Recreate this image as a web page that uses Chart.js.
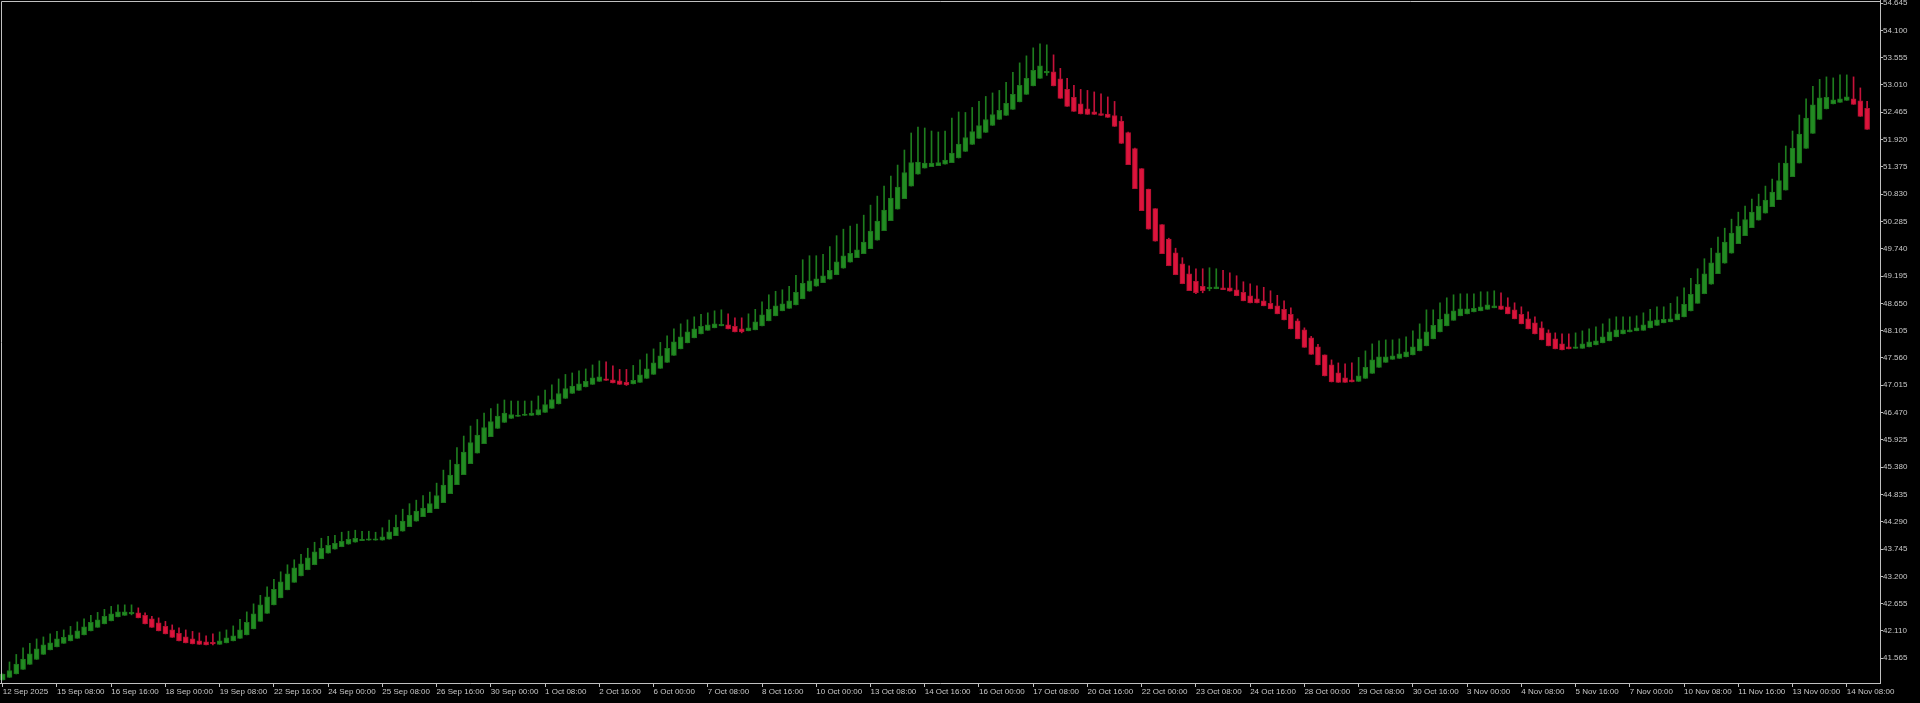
<!DOCTYPE html>
<html>
<head>
<meta charset="utf-8">
<script src="https://cdn.jsdelivr.net/npm/chart.js@4.4.1/dist/chart.umd.min.js"></script>
<style>
html,body{margin:0;padding:0;background:#000;overflow:hidden}
canvas{display:block}
</style>
</head>
<body>
<canvas id="c" width="1920" height="703"></canvas>
<script>
// ---- tick labels ----
const xTickLabels = ['12 Sep 2025','15 Sep 08:00','16 Sep 16:00','18 Sep 00:00','19 Sep 08:00','22 Sep 16:00','24 Sep 00:00','25 Sep 08:00','26 Sep 16:00','30 Sep 00:00','1 Oct 08:00','2 Oct 16:00','6 Oct 00:00','7 Oct 08:00','8 Oct 16:00','10 Oct 00:00','13 Oct 08:00','14 Oct 16:00','16 Oct 00:00','17 Oct 08:00','20 Oct 16:00','22 Oct 00:00','23 Oct 08:00','24 Oct 16:00','28 Oct 00:00','29 Oct 08:00','30 Oct 16:00','3 Nov 00:00','4 Nov 08:00','5 Nov 16:00','7 Nov 00:00','10 Nov 08:00','11 Nov 16:00','13 Nov 00:00','14 Nov 08:00'];
const barsPerXTick = 8;
const yTickValues = [41.565,42.110,42.655,43.200,43.745,44.290,44.835,45.380,45.925,46.470,47.015,47.560,48.105,48.650,49.195,49.740,50.285,50.830,51.375,51.920,52.465,53.010,53.555,54.100,54.645];

// ---- candle series (H4 bars, one per index) ----
const opens = [41.13,41.18,41.25,41.34,41.44,41.54,41.64,41.73,41.79,41.86,41.91,41.96,42.03,42.11,42.18,42.25,42.31,42.39,42.42,42.45,
42.47,42.42,42.35,42.27,42.20,42.13,42.06,41.99,41.95,41.91,41.89,41.87,41.84,41.87,41.91,41.96,42.03,42.15,42.30,42.46,
42.63,42.77,42.93,43.08,43.21,43.33,43.43,43.55,43.66,43.74,43.79,43.84,43.88,43.91,43.92,43.92,43.92,43.94,44.01,44.10,
44.19,44.30,44.39,44.47,44.55,44.67,44.85,45.03,45.23,45.45,45.66,45.85,45.99,46.15,46.27,46.35,46.39,46.41,46.41,46.42,
46.47,46.55,46.64,46.75,46.85,46.91,46.98,47.03,47.09,47.14,47.12,47.10,47.07,47.04,47.07,47.15,47.23,47.35,47.47,47.61,
47.74,47.86,47.96,48.04,48.11,48.16,48.20,48.22,48.19,48.14,48.10,48.12,48.20,48.30,48.40,48.50,48.55,48.62,48.74,48.89,
48.99,49.06,49.13,49.22,49.35,49.47,49.56,49.64,49.74,49.91,50.10,50.30,50.53,50.74,50.99,51.23,51.35,51.38,51.40,51.43,
51.46,51.55,51.68,51.82,51.94,52.06,52.20,52.32,52.40,52.52,52.67,52.82,52.99,53.14,53.25,53.27,53.13,52.92,52.76,52.63,
52.53,52.47,52.44,52.43,52.40,52.29,52.06,51.74,51.34,50.93,50.54,50.22,49.93,49.66,49.44,49.24,49.09,48.99,48.94,48.94,
48.96,48.96,48.92,48.87,48.80,48.74,48.70,48.65,48.60,48.53,48.43,48.30,48.12,47.96,47.78,47.62,47.42,47.26,47.16,47.12,
47.09,47.15,47.25,47.37,47.47,47.53,47.55,47.58,47.62,47.70,47.80,47.94,48.08,48.20,48.31,48.40,48.44,48.48,48.50,48.53,
48.56,48.60,48.58,48.52,48.43,48.34,48.26,48.16,48.06,47.94,47.84,47.78,47.75,47.75,47.78,47.82,47.86,47.90,47.98,48.04,
48.08,48.10,48.11,48.16,48.21,48.26,48.28,48.32,48.38,48.50,48.65,48.84,49.03,49.24,49.45,49.65,49.84,50.00,50.16,50.31,
50.45,50.58,50.72,50.91,51.18,51.45,51.74,52.04,52.32,52.53,52.63,52.66,52.70,52.73,52.69,52.54];
const highs = [41.25,41.49,41.64,41.77,41.86,41.95,41.99,42.05,42.10,42.13,42.20,42.29,42.35,42.42,42.48,42.54,42.60,42.63,42.63,42.63,
42.57,42.47,42.40,42.37,42.30,42.23,42.17,42.13,42.10,42.07,42.01,42.05,42.09,42.13,42.21,42.34,42.49,42.65,42.82,42.99,
43.14,43.29,43.43,43.53,43.64,43.76,43.88,43.96,44.00,44.02,44.08,44.10,44.12,44.10,44.10,44.08,44.17,44.32,44.42,44.54,
44.65,44.72,44.81,44.88,45.06,45.32,45.52,45.77,46.00,46.20,46.33,46.46,46.55,46.64,46.72,46.70,46.70,46.70,46.70,46.80,
46.92,47.02,47.14,47.23,47.26,47.30,47.34,47.42,47.50,47.48,47.40,47.33,47.33,47.41,47.52,47.64,47.74,47.87,48.00,48.14,
48.24,48.32,48.38,48.43,48.46,48.50,48.52,48.44,48.36,48.36,48.44,48.53,48.68,48.82,48.89,48.92,48.99,49.21,49.52,49.60,
49.60,49.63,49.78,50.00,50.13,50.19,50.23,50.41,50.61,50.79,50.99,51.19,51.41,51.71,52.05,52.17,52.15,52.09,52.07,52.09,
52.35,52.47,52.46,52.56,52.68,52.78,52.85,52.90,53.06,53.26,53.45,53.59,53.75,53.83,53.81,53.61,53.34,53.14,53.00,52.92,
52.90,52.87,52.83,52.77,52.68,52.38,52.07,51.75,51.34,50.93,50.54,50.22,49.95,49.75,49.56,49.40,49.34,49.34,49.36,49.34,
49.31,49.26,49.20,49.08,49.04,49.00,48.97,48.90,48.81,48.70,48.56,48.34,48.16,47.99,47.83,47.62,47.52,47.46,47.44,47.46,
47.57,47.70,47.84,47.90,47.92,47.92,47.94,47.98,48.10,48.24,48.52,48.52,48.66,48.76,48.82,48.84,48.84,48.84,48.88,48.88,
48.90,48.86,48.76,48.66,48.58,48.48,48.38,48.28,48.12,48.06,48.04,48.04,48.06,48.10,48.14,48.18,48.24,48.34,48.38,48.38,
48.38,48.40,48.46,48.53,48.58,48.58,48.65,48.78,48.96,49.15,49.34,49.54,49.75,49.97,50.15,50.33,50.47,50.59,50.73,50.83,
50.99,51.13,51.45,51.79,52.09,52.41,52.73,52.98,53.12,53.17,53.15,53.21,53.21,53.17,52.95,52.68];
const lows = [41.13,41.18,41.25,41.34,41.44,41.54,41.64,41.73,41.79,41.86,41.91,41.96,42.03,42.11,42.18,42.25,42.31,42.39,42.42,42.43,
42.37,42.25,42.18,42.11,42.05,41.98,41.91,41.87,41.85,41.84,41.83,41.83,41.84,41.87,41.91,41.96,42.03,42.15,42.30,42.46,
42.63,42.77,42.93,43.08,43.21,43.33,43.43,43.55,43.66,43.74,43.79,43.84,43.88,43.91,43.92,43.92,43.92,43.94,44.01,44.10,
44.19,44.30,44.39,44.47,44.55,44.67,44.85,45.03,45.23,45.45,45.66,45.85,45.99,46.15,46.27,46.35,46.39,46.41,46.41,46.42,
46.47,46.55,46.64,46.75,46.85,46.91,46.98,47.03,47.09,47.11,47.06,47.03,47.01,47.04,47.07,47.15,47.23,47.35,47.47,47.61,
47.74,47.86,47.96,48.04,48.11,48.16,48.20,48.14,48.08,48.06,48.10,48.12,48.20,48.30,48.40,48.50,48.55,48.62,48.74,48.89,
48.99,49.06,49.13,49.22,49.35,49.47,49.56,49.64,49.74,49.91,50.10,50.30,50.53,50.74,50.99,51.23,51.35,51.38,51.40,51.43,
51.46,51.55,51.68,51.82,51.94,52.06,52.20,52.32,52.40,52.52,52.67,52.82,52.99,53.14,53.20,52.99,52.74,52.58,52.48,52.43,
52.42,52.42,52.40,52.36,52.18,51.84,51.42,50.94,50.50,50.13,49.89,49.64,49.40,49.22,49.04,48.90,48.84,48.86,48.90,48.94,
48.92,48.89,48.80,48.70,48.66,48.66,48.60,48.54,48.44,48.32,48.14,47.94,47.77,47.63,47.42,47.20,47.08,47.07,47.07,47.08,
47.09,47.15,47.25,47.37,47.47,47.53,47.55,47.58,47.62,47.70,47.80,47.94,48.08,48.20,48.31,48.40,48.44,48.48,48.50,48.53,
48.56,48.53,48.44,48.34,48.24,48.14,48.04,47.92,47.80,47.74,47.72,47.74,47.75,47.75,47.78,47.82,47.86,47.90,47.98,48.04,
48.08,48.10,48.11,48.16,48.21,48.26,48.28,48.32,48.38,48.50,48.65,48.84,49.03,49.24,49.45,49.65,49.84,50.00,50.16,50.31,
50.45,50.58,50.72,50.91,51.18,51.45,51.74,52.04,52.32,52.53,52.63,52.66,52.70,52.62,52.38,52.12];
const closes = [41.25,41.32,41.45,41.55,41.65,41.75,41.83,41.87,41.95,41.98,42.03,42.11,42.19,42.28,42.33,42.40,42.45,42.49,42.49,42.47,
42.37,42.25,42.18,42.11,42.05,41.98,41.91,41.87,41.85,41.84,41.83,41.85,41.91,41.97,42.01,42.13,42.28,42.45,42.63,42.79,
42.94,43.09,43.25,43.37,43.45,43.57,43.69,43.76,43.82,43.86,43.90,43.94,43.96,43.94,43.94,43.94,43.99,44.09,44.18,44.30,
44.42,44.50,44.56,44.65,44.81,45.02,45.22,45.44,45.68,45.87,46.02,46.17,46.29,46.40,46.46,46.43,46.42,46.43,46.46,46.53,
46.63,46.73,46.85,46.95,47.00,47.04,47.09,47.16,47.18,47.11,47.06,47.03,47.02,47.11,47.22,47.34,47.46,47.60,47.75,47.88,
47.98,48.08,48.14,48.19,48.22,48.24,48.22,48.14,48.08,48.08,48.16,48.28,48.42,48.53,48.60,48.64,48.70,48.87,49.05,49.10,
49.14,49.20,49.31,49.48,49.60,49.65,49.72,49.87,50.09,50.29,50.51,50.75,50.97,51.26,51.46,51.47,51.45,51.45,51.46,51.51,
51.65,51.83,51.96,52.08,52.20,52.32,52.42,52.50,52.64,52.82,53.00,53.14,53.30,53.39,53.27,52.99,52.74,52.58,52.48,52.43,
52.42,52.42,52.40,52.36,52.18,51.84,51.42,50.94,50.50,50.13,49.89,49.64,49.40,49.22,49.04,48.90,48.86,48.90,48.96,48.98,
48.92,48.89,48.80,48.70,48.66,48.66,48.60,48.54,48.44,48.32,48.14,47.94,47.77,47.63,47.42,47.20,47.08,47.07,47.07,47.08,
47.20,47.37,47.52,47.58,47.58,47.60,47.64,47.68,47.78,47.94,48.08,48.21,48.33,48.44,48.50,48.54,48.54,48.55,48.58,48.62,
48.60,48.53,48.44,48.34,48.24,48.14,48.04,47.92,47.80,47.74,47.72,47.74,47.78,47.84,47.88,47.90,47.98,48.08,48.12,48.12,
48.12,48.16,48.22,48.30,48.32,48.33,48.34,48.44,48.63,48.83,49.03,49.24,49.46,49.66,49.87,50.05,50.19,50.32,50.47,50.59,
50.71,50.87,51.10,51.45,51.75,52.03,52.35,52.61,52.75,52.76,52.71,52.73,52.77,52.62,52.38,52.12];

// ---- styling ----
const BULL = '#228b22', BULL_EDGE = '#1b731b', BEAR = '#dc143c', BEAR_EDGE = '#b01030';
const WICK_BULL = '#1e7d1e', WICK_BEAR = '#c4123a';
const AXIS = '#c0c0c0', TEXT = '#c8c8c8';
const FONT = {family: "'Liberation Sans', Arial, sans-serif", size: 8};

const idx = opens.map((_, i) => i);
const up = idx.map(i => closes[i] >= opens[i]);

const framePlugin = {
  id: 'frame',
  afterDraw(chart) {
    const {ctx, chartArea: a} = chart;
    ctx.save();
    ctx.strokeStyle = AXIS;
    ctx.lineWidth = 1;
    ctx.beginPath();
    ctx.moveTo(a.left + 1.5, a.bottom);
    ctx.lineTo(a.left + 1.5, a.top + 1.5);
    ctx.lineTo(a.right, a.top + 1.5);
    ctx.stroke();
    ctx.restore();
  }
};

new Chart(document.getElementById('c'), {
  type: 'bar',
  data: {
    datasets: [
      {
        label: 'body',
        data: idx.map(i => ({x: i, y: [opens[i], closes[i]]})),
        backgroundColor: up.map(u => u ? BULL : BEAR),
        borderColor: up.map(u => u ? BULL_EDGE : BEAR_EDGE),
        borderWidth: 1,
        borderSkipped: false,
        barThickness: 5,
        minBarLength: 1.5,
        grouped: false
      },
      {
        label: 'wick',
        data: idx.map(i => ({x: i, y: [lows[i], highs[i]]})),
        backgroundColor: up.map(u => u ? WICK_BULL : WICK_BEAR),
        borderWidth: 0,
        barThickness: 1,
        grouped: false
      }
    ]
  },
  options: {
    responsive: false,
    animation: false,
    devicePixelRatio: 1,
    layout: {padding: 0, autoPadding: false},
    plugins: {legend: {display: false}, tooltip: {enabled: false}},
    scales: {
      x: {
        type: 'linear',
        position: 'bottom',
        min: -0.4,
        max: 276.9,
        offset: false,
        afterFit(s) { s.height = 20; s.paddingLeft = 0; s.paddingRight = 0; },
        afterBuildTicks(s) { s.ticks = xTickLabels.map((_, k) => ({value: k * barsPerXTick})); },
        ticks: {
          autoSkip: false, maxRotation: 0, minRotation: 0, align: 'start', padding: 0,
          color: TEXT, font: FONT,
          callback: (v, i) => xTickLabels[i]
        },
        grid: {drawOnChartArea: false, drawTicks: true, tickLength: 4, color: AXIS, offset: false},
        border: {display: true, color: AXIS, width: 1}
      },
      y: {
        type: 'linear',
        position: 'right',
        min: 41.07,
        max: 54.705,
        afterFit(s) { s.width = 40; s.paddingTop = 0; s.paddingBottom = 0; },
        afterBuildTicks(s) { s.ticks = yTickValues.map(v => ({value: v})); },
        ticks: {
          autoSkip: false, padding: 0, color: TEXT, font: FONT,
          callback: v => Number(v).toFixed(3)
        },
        grid: {drawOnChartArea: false, drawTicks: true, tickLength: 3, color: AXIS},
        border: {display: true, color: AXIS, width: 1}
      }
    }
  },
  plugins: [framePlugin]
});
</script>
</body>
</html>
